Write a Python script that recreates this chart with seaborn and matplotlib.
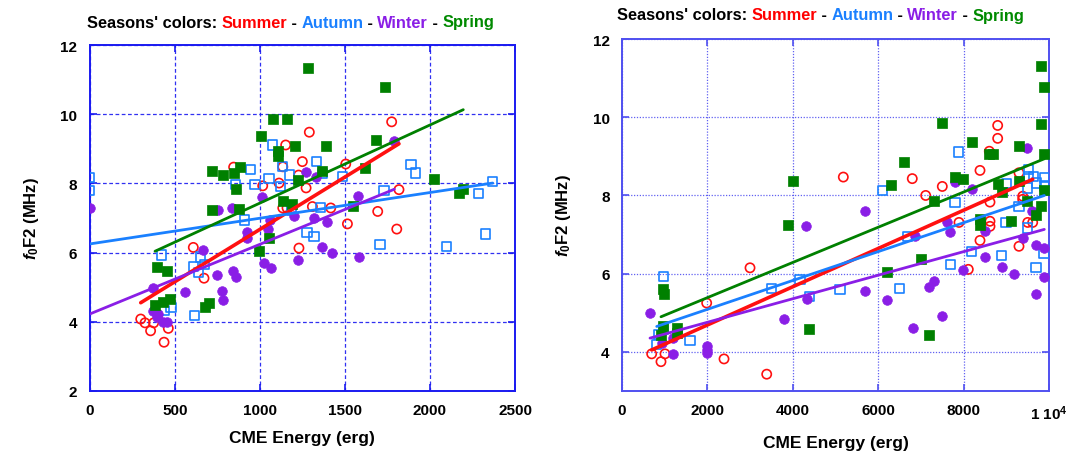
import numpy as np
import pandas as pd
import matplotlib
matplotlib.use("Agg")
import matplotlib.pyplot as plt
import seaborn as sns

# ---------------- data ----------------
# Left panel: CME energy 0..2500
L_summer_x = [1291, 1152, 1250, 1228, 1272, 1135, 1113, 1017, 846, 1135, 1160, 1309, 1230, 609, 672,
              300, 325, 376, 358, 462, 437, 1775, 1505, 1417, 1818, 1693, 1515, 1805]
L_summer_y = [9.48, 9.11, 8.63, 8.24, 7.87, 8.48, 8.01, 7.93, 8.47, 7.29, 7.29, 7.33, 6.13, 6.15, 5.26,
              4.08, 3.97, 3.97, 3.74, 3.81, 3.41, 9.78, 8.56, 7.29, 7.82, 7.19, 6.83, 6.68]

L_autumn_x = [0, 0, 1074, 944, 858, 972, 1054, 1123, 1132, 1173, 1331, 909, 1186, 1277, 1319, 1355,
              652, 608, 675, 638, 617, 423, 437, 478, 1370, 1485, 1889, 1917, 1730, 2285, 2369,
              1707, 2099, 2328]
L_autumn_y = [8.18, 7.79, 9.11, 8.41, 7.97, 7.97, 8.14, 7.90, 8.48, 8.24, 8.64, 6.94, 7.22, 6.57, 6.46, 7.30,
              5.87, 5.59, 5.65, 5.43, 4.18, 5.93, 4.32, 4.42, 8.29, 8.20, 8.54, 8.30, 7.79, 7.71, 8.06,
              6.23, 6.17, 6.54]

L_winter_x = [0, 754, 838, 1015, 1271, 1330, 1057, 1203, 1319, 1395, 923, 923, 1050, 1367, 1423, 1226,
              1022, 1067, 666, 748, 844, 860, 560, 776, 782, 370, 374, 403, 394, 433, 456, 1791, 1575, 1583]
L_winter_y = [7.28, 7.23, 7.29, 7.60, 8.33, 8.18, 6.93, 7.05, 6.99, 6.88, 6.59, 6.42, 6.68, 6.16, 5.99, 5.79,
              5.71, 5.55, 6.08, 5.35, 5.48, 5.30, 4.85, 4.90, 4.64, 4.97, 4.32, 4.23, 4.13, 3.98, 4.00,
              9.22, 7.63, 5.87]

L_spring_x = [1282, 1076, 1160, 1007, 1109, 1109, 1207, 721, 784, 846, 884, 860, 717, 878, 1134, 1187,
              1056, 1226, 1736, 1681, 1389, 1618, 1364, 2026, 2196, 2173, 1550, 394, 453, 384, 433, 472,
              678, 703, 997]
L_spring_y = [11.33, 9.86, 9.86, 9.38, 8.95, 8.78, 9.07, 8.37, 8.24, 8.30, 8.48, 7.84, 7.23, 7.26, 7.50, 7.40,
              6.41, 8.11, 10.78, 9.25, 9.07, 8.44, 8.37, 8.13, 7.84, 7.71, 7.36, 5.57, 5.48, 4.49, 4.58, 4.66,
              4.42, 4.54, 6.05]

# Right panel: CME energy 0..10000
R_summer_x = [695, 913, 1007, 1983, 2389, 2998, 3389, 5183, 6798, 7112, 7501, 8384, 8602, 8798, 8798,
              8618, 9297, 9384, 9384, 7892, 8618, 8618, 9501, 9618, 8384, 9297, 8110]
R_summer_y = [3.95, 3.75, 3.95, 5.25, 3.82, 6.15, 3.43, 8.47, 8.43, 8.00, 8.23, 8.64, 9.13, 9.79, 9.46,
              7.83, 8.58, 7.98, 7.90, 7.31, 7.34, 7.21, 7.31, 7.31, 6.85, 6.70, 6.11]

R_autumn_x = [967, 850, 967, 813, 1593, 3506, 4169, 4387, 5105, 6105, 6494, 6681, 7698, 7799, 7876, 8190,
              8892, 8993, 9009, 9297, 9501, 9516, 9516, 9633, 9712, 9890, 9501, 9890, 9696, 9883]
R_autumn_y = [5.93, 4.44, 4.57, 4.18, 4.29, 5.63, 5.85, 5.42, 5.59, 8.13, 5.63, 6.96, 6.23, 7.81, 9.11, 6.56,
              6.47, 7.30, 8.30, 7.72, 7.17, 8.66, 8.49, 8.49, 8.32, 8.45, 8.19, 8.24, 6.15, 6.51]

R_winter_x = [656, 929, 1187, 1202, 1998, 1998, 1998, 3794, 4325, 4309, 5691, 5691, 6199, 6808, 6862, 7190,
              7307, 7501, 7604, 7681, 7799, 7994, 8204, 8501, 8501, 8892, 9188, 9399, 9492, 9595, 9696,
              9890, 9890, 9696]
R_winter_y = [4.99, 4.23, 4.35, 3.95, 4.14, 4.05, 3.98, 4.84, 5.35, 7.21, 7.61, 5.56, 5.33, 4.62, 6.96, 5.67,
              5.80, 4.92, 7.31, 7.06, 8.34, 6.09, 8.17, 7.08, 6.42, 6.17, 5.99, 6.90, 9.22, 7.61, 6.74,
              6.66, 5.91, 5.48]

R_spring_x = [967, 991, 913, 967, 1295, 1295, 3895, 3997, 4387, 6199, 6300, 6611, 6995, 7190, 7307, 7501,
              7799, 7994, 8190, 8384, 8384, 8602, 8696, 8813, 8892, 9103, 9297, 9297, 9492, 9696, 9805,
              9890, 9805, 9890, 9890, 9805]
R_spring_y = [5.61, 5.48, 4.44, 4.65, 4.61, 4.48, 7.25, 8.38, 4.58, 6.04, 8.26, 8.86, 6.38, 4.42, 7.85, 9.84,
              8.47, 8.43, 9.37, 7.40, 7.25, 9.07, 9.07, 8.28, 8.09, 7.34, 9.26, 8.36, 7.85, 7.51, 11.31,
              10.78, 9.82, 9.06, 8.13, 7.72]

# Linear fits (intercept, slope), order: Summer, Autumn, Winter, Spring
seasons = ["Summer", "Autumn", "Winter", "Spring"]
L_fit_intercept = [3.644, 6.25, 4.225, 5.172]
L_fit_slope = [0.003026, 0.000743, 0.002014, 0.002258]
R_fit_intercept = [3.71, 4.35, 4.155, 4.487]
R_fit_slope = [0.000489, 0.000369, 0.000301, 0.000450]

L_xticks = [0, 500, 1000, 1500, 2000, 2500]
L_yticks = [2, 4, 6, 8, 10, 12]
R_xticks = [0, 2000, 4000, 6000, 8000, 10000]
R_xticklabels = ["0", "2000", "4000", "6000", "8000", r"1 10$^{4}$"]
R_yticks = [4, 6, 8, 10, 12]

title_pieces = [("Seasons' colors: ", "black"), ("Summer", "#ff0000"), (" - ", "black"),
                ("Autumn", "#1a80ff"), (" - ", "black"), ("Winter", "#8a1ee6"),
                (" - ", "black"), ("Spring", "#008a00")]

# ---------------- style ----------------
sns.set_theme(style="white")
plt.rcParams["font.family"] = ["Liberation Sans", "DejaVu Sans"]
plt.rcParams["mathtext.fontset"] = "custom"
plt.rcParams["mathtext.rm"] = "Liberation Sans:bold"
plt.rcParams["mathtext.it"] = "Liberation Sans:italic:bold"
plt.rcParams["mathtext.bf"] = "Liberation Sans:bold"
plt.rcParams["text.color"] = "black"
plt.rcParams["axes.labelcolor"] = "black"
plt.rcParams["xtick.labelcolor"] = "black"
plt.rcParams["ytick.labelcolor"] = "black"

colors = {"Summer": "#ff1010", "Autumn": "#1a80ff", "Winter": "#8a1ee6", "Spring": "#008000"}
markers = {"Summer": "o", "Autumn": "s", "Winter": "o", "Spring": "s"}
hollow = {"Summer": True, "Autumn": True, "Winter": False, "Spring": False}
lws = {"Summer": 2.6, "Autumn": 2.0, "Winter": 2.0, "Spring": 2.0}

W, H = 1069, 456
fig = plt.figure(figsize=(W / 100, H / 100), dpi=100)
fig.patch.set_facecolor("white")

axL = fig.add_axes([89.7 / W, 1 - 392 / H, (515 - 89.7) / W, (392 - 46) / H])
axR = fig.add_axes([622 / W, 1 - 392 / H, (1049 - 622) / W, (392 - 40) / H])


def draw_panel(ax, data, intercepts, slopes, frame_col, grid_ls):
    for i, s in enumerate(seasons):
        xs, ys = data[s]
        df = pd.DataFrame({"x": xs, "y": ys})
        c = colors[s]
        if hollow[s]:
            sns.scatterplot(data=df, x="x", y="y", ax=ax, marker=markers[s], s=44,
                            color=c, facecolor="none", edgecolor=c, linewidth=1.2, zorder=3)
        else:
            sns.scatterplot(data=df, x="x", y="y", ax=ax, marker=markers[s], s=48,
                            color=c, edgecolor=c, linewidth=0.5, zorder=3)
    for i, s in enumerate(seasons):
        xs, _ = data[s]
        xr = np.array([min(xs), max(xs)], dtype=float)
        yr = intercepts[i] + slopes[i] * xr
        sns.lineplot(x=xr, y=yr, ax=ax, color=colors[s], linewidth=lws[s], zorder=4)
    ax.grid(True, color=frame_col, linestyle=grid_ls, linewidth=0.9, alpha=0.9)
    ax.set_axisbelow(True)
    for sp in ax.spines.values():
        sp.set_color(frame_col)
        sp.set_linewidth(1.4)
    ax.tick_params(direction="in", length=5, width=1.2, color=frame_col, labelcolor="black",
                   top=True, right=True, bottom=True, left=True, labelsize=11, pad=9)
    ax.set_xlabel("CME Energy (erg)", fontsize=12.5, fontweight="bold", color="black")
    ax.set_ylabel(r"$f_{0}$F2 (MHz)", fontsize=12, fontweight="bold", color="black")


L_data = {"Summer": (L_summer_x, L_summer_y), "Autumn": (L_autumn_x, L_autumn_y),
          "Winter": (L_winter_x, L_winter_y), "Spring": (L_spring_x, L_spring_y)}
R_data = {"Summer": (R_summer_x, R_summer_y), "Autumn": (R_autumn_x, R_autumn_y),
          "Winter": (R_winter_x, R_winter_y), "Spring": (R_spring_x, R_spring_y)}

draw_panel(axL, L_data, L_fit_intercept, L_fit_slope, "#1a1af0", (0, (3, 2)))
axL.set_xlim(0, 2500)
axL.set_ylim(2, 12)
axL.set_xticks(L_xticks)
axL.set_xticklabels([str(v) for v in L_xticks])
axL.set_yticks(L_yticks)
axL.set_yticklabels([str(v) for v in L_yticks])

draw_panel(axR, R_data, R_fit_intercept, R_fit_slope, "#5050f0", (0, (1, 1.3)))
axR.set_xlim(0, 10000)
axR.set_ylim(3, 12)
axR.set_xticks(R_xticks)
axR.set_xticklabels(R_xticklabels)
axR.set_yticks(R_yticks)
axR.set_yticklabels([str(v) for v in R_yticks])

for ax in (axL, axR):
    for lab in ax.get_xticklabels() + ax.get_yticklabels():
        lab.set_fontweight("bold")
        lab.set_fontsize(11)
        lab.set_color("black")
    ax.xaxis.labelpad = 9
    ax.yaxis.labelpad = 14

# ---------------- multicolour titles ----------------
fig.canvas.draw()
renderer = fig.canvas.get_renderer()


def text_width(s, size):
    t = fig.text(0, 0, s + "x", fontsize=size, fontweight="bold")
    t2 = fig.text(0, 0, "x", fontsize=size, fontweight="bold")
    w = t.get_window_extent(renderer).width - t2.get_window_extent(renderer).width
    t.remove()
    t2.remove()
    return w


def colored_title(x0, y0, size):
    prefix = ""
    for txt, col in title_pieces:
        off = text_width(prefix, size) if prefix else 0.0
        fig.text((x0 + off) / W, 1 - y0 / H, txt, color=col, fontsize=size,
                 fontweight="bold", ha="left", va="center")
        prefix += txt


colored_title(87, 23, 11.8)
colored_title(617, 16, 11.8)

fig.savefig("out.png", dpi=100, facecolor="white")
